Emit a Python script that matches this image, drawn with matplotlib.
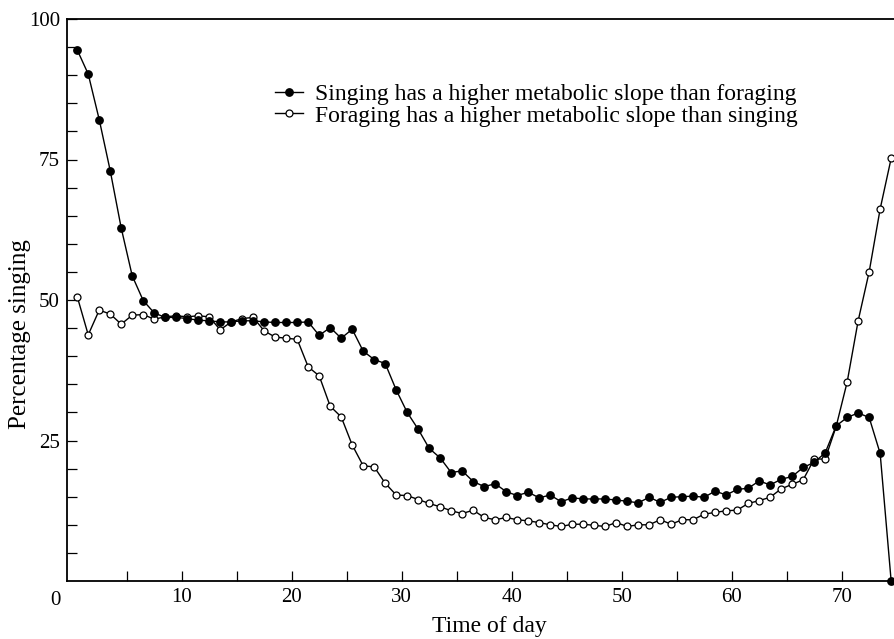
import matplotlib
matplotlib.use("Agg")
import matplotlib.pyplot as plt

# time of day bins (bin centres)
time_of_day = [0.5, 1.5, 2.5, 3.5, 4.5, 5.5, 6.5, 7.5, 8.5, 9.5,
               10.5, 11.5, 12.5, 13.5, 14.5, 15.5, 16.5, 17.5, 18.5, 19.5,
               20.5, 21.5, 22.5, 23.5, 24.5, 25.5, 26.5, 27.5, 28.5, 29.5,
               30.5, 31.5, 32.5, 33.5, 34.5, 35.5, 36.5, 37.5, 38.5, 39.5,
               40.5, 41.5, 42.5, 43.5, 44.5, 45.5, 46.5, 47.5, 48.5, 49.5,
               50.5, 51.5, 52.5, 53.5, 54.5, 55.5, 56.5, 57.5, 58.5, 59.5,
               60.5, 61.5, 62.5, 63.5, 64.5, 65.5, 66.5, 67.5, 68.5, 69.5,
               70.5, 71.5, 72.5, 73.5, 74.5]

# singing has a higher metabolic slope than foraging (filled)
singing_higher = [94.5, 90.2, 82.1, 73.0, 62.8, 54.3, 49.9, 47.7, 46.9, 46.9,
                  46.7, 46.4, 46.3, 46.1, 46.1, 46.3, 46.3, 46.1, 46.0, 46.0,
                  46.0, 46.1, 43.7, 45.1, 43.2, 44.8, 40.9, 39.4, 38.7, 34.0,
                  30.0, 27.0, 23.6, 21.9, 19.3, 19.6, 17.7, 16.8, 17.3, 15.9,
                  15.2, 15.8, 14.8, 15.3, 14.1, 14.8, 14.6, 14.6, 14.6, 14.4,
                  14.2, 13.9, 14.9, 14.0, 14.9, 15.0, 15.1, 14.9, 16.0, 15.3,
                  16.3, 16.5, 17.8, 17.1, 18.1, 18.6, 20.2, 21.1, 22.8, 27.6,
                  29.1, 29.9, 29.1, 22.7, 0.0]

# foraging has a higher metabolic slope than singing (open)
foraging_higher = [50.6, 43.8, 48.2, 47.5, 45.7, 47.3, 47.4, 46.6, 47.0, 47.2,
                   47.0, 47.2, 47.0, 44.7, 46.1, 46.7, 46.9, 44.5, 43.4, 43.2,
                   43.0, 38.1, 36.5, 31.1, 29.2, 24.2, 20.5, 20.3, 17.4, 15.3,
                   15.2, 14.5, 13.8, 13.2, 12.5, 12.0, 12.6, 11.3, 10.9, 11.3,
                   10.9, 10.7, 10.4, 10.0, 9.7, 10.1, 10.1, 9.9, 9.7, 10.4,
                   9.7, 10.0, 10.0, 10.9, 10.1, 10.9, 10.9, 11.9, 12.2, 12.5,
                   12.6, 13.8, 14.3, 14.9, 16.4, 17.2, 18.0, 21.7, 21.7, 27.5,
                   35.4, 46.3, 55.0, 66.2, 75.2]

x_ticks = [5, 10, 15, 20, 25, 30, 35, 40, 45, 50, 55, 60, 65, 70]
y_ticks = [5, 10, 15, 20, 25, 30, 35, 40, 45, 50, 55, 60, 65, 70, 75, 80, 85, 90, 95, 100]

plt.rcParams['font.family'] = ['Liberation Serif', 'DejaVu Serif']

fig = plt.figure(figsize=(8.95, 6.39), dpi=100)
ax = fig.add_axes([67 / 895, 58 / 639, 828 / 895, 562 / 639])

ax.plot(time_of_day, foraging_higher, '-o', color='black', linewidth=1.0,
        markersize=5, markerfacecolor='white', markeredgecolor='black',
        markeredgewidth=0.9, clip_on=False, zorder=3,
        label='Foraging has a higher metabolic slope than singing')
ax.plot(time_of_day, singing_higher, '-o', color='black', linewidth=1.0,
        markersize=5.3, markerfacecolor='black', clip_on=False, zorder=4,
        label='Singing has a higher metabolic slope than foraging')

ax.set_xlim(-0.43, 74.85)
ax.set_ylim(0, 100)

ax.set_xticks(x_ticks)
ax.set_xticklabels([str(t) if t % 10 == 0 else '' for t in x_ticks])
ax.set_yticks(y_ticks)
ax.set_yticklabels([str(t) if t % 25 == 0 else '' for t in y_ticks])
ax.tick_params(direction='in', length=7, width=0.9, labelsize=15, pad=5)
ax.text(-0.0145, -0.035, '0', transform=ax.transAxes, ha='center', va='center', fontsize=15)

ax.spines['right'].set_visible(False)
for s in ['left', 'bottom', 'top']:
    ax.spines[s].set_linewidth(1.3)

ax.set_xlabel('Time of day', fontsize=17, labelpad=5)
ax.xaxis.set_label_coords(0.51, -0.062)
ax.xaxis.label.set_va('top')
ax.set_ylabel('Percentage singing', fontsize=18)
ax.yaxis.set_label_coords(-0.044, 0.44)

handles, labels = ax.get_legend_handles_labels()
ax.legend(handles[::-1], labels[::-1], loc='upper left', bbox_to_anchor=(0.251, 0.885),
          frameon=False, fontsize=17, handlelength=1.2, handletextpad=0.5,
          labelspacing=0.0, borderaxespad=0, borderpad=0)

fig.savefig('out.png', dpi=100)
